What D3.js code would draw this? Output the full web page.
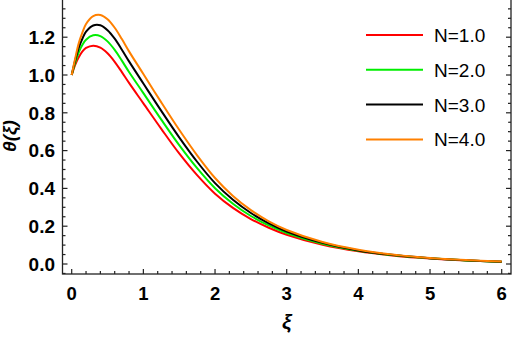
<!DOCTYPE html>
<html>
<head>
<meta charset="utf-8">
<script src="https://cdn.jsdelivr.net/npm/d3@7"></script>
<style>
  body { margin: 0; background: #fff; }
  svg { display: block; }
</style>
</head>
<body>
<svg id="chart" width="512" height="337"></svg>
<script>
const svg = d3.select("#chart");

// data
const xi = [0, 0.05, 0.1, 0.15, 0.2, 0.3, 0.4, 0.5, 0.6, 0.7, 0.8, 1.0, 1.25, 1.5, 1.75, 2.0, 2.25, 2.5, 2.75, 3.0, 3.5, 4.0, 4.5, 5.0, 5.5, 6.0];
const theta_N1 = [1.0, 1.055, 1.095, 1.125, 1.143, 1.155, 1.145, 1.115, 1.07, 1.015, 0.958, 0.85, 0.715, 0.585, 0.47, 0.372, 0.297, 0.238, 0.192, 0.155, 0.102, 0.067, 0.044, 0.029, 0.019, 0.012];
const theta_N2 = [1.0, 1.067, 1.121, 1.16, 1.187, 1.21, 1.206, 1.178, 1.133, 1.076, 1.016, 0.904, 0.764, 0.629, 0.507, 0.401, 0.319, 0.254, 0.204, 0.164, 0.107, 0.07, 0.046, 0.03, 0.019, 0.012];
const theta_N3 = [1.0, 1.079, 1.146, 1.193, 1.229, 1.262, 1.263, 1.237, 1.192, 1.134, 1.072, 0.955, 0.81, 0.67, 0.541, 0.428, 0.34, 0.27, 0.215, 0.172, 0.112, 0.072, 0.047, 0.031, 0.02, 0.012];
const theta_N4 = [1.0, 1.09, 1.17, 1.225, 1.27, 1.312, 1.318, 1.295, 1.25, 1.19, 1.125, 1.005, 0.855, 0.71, 0.575, 0.455, 0.36, 0.285, 0.226, 0.18, 0.116, 0.075, 0.049, 0.032, 0.021, 0.013];

const labels = ["N=1.0", "N=2.0", "N=3.0", "N=4.0"];
const colors = ["#ff0000", "#00ee00", "#000000", "#ff8000"];
const series = [theta_N1, theta_N2, theta_N3, theta_N4];

const xTicks = [0, 1, 2, 3, 4, 5, 6];
const yTicks = [0.0, 0.2, 0.4, 0.6, 0.8, 1.0, 1.2];

// frame in pixels
const fLeft = 62.5, fRight = 511, fTop = -2, fBottom = 274;

const x = d3.scaleLinear().domain([0, 6]).range([71.7, 501.7]);
const y = d3.scaleLinear().domain([0, 1.2]).range([264, 37.2]);

// frame
const frame = svg.append("g");
frame.append("rect")
    .attr("x", fLeft).attr("y", fTop)
    .attr("width", fRight - fLeft).attr("height", fBottom - fTop)
    .attr("fill", "none")
    .attr("stroke", "#222")
    .attr("stroke-width", 1.3);

// ticks (inward)
const xMinor = d3.range(0, 6.01, 0.2).filter(v => Math.abs(v - Math.round(v)) > 1e-6);
const yMinor = d3.range(-0.05, 1.4, 0.05).filter(v => Math.abs(v * 5 - Math.round(v * 5)) > 1e-6);

function tickLines(vals, len, axis) {
    vals.forEach(v => {
        if (axis === "x") {
            frame.append("line").attr("x1", x(v)).attr("x2", x(v))
                .attr("y1", fBottom).attr("y2", fBottom - len)
                .attr("stroke", "#222").attr("stroke-width", 1.2);
        } else {
            frame.append("line").attr("y1", y(v)).attr("y2", y(v))
                .attr("x1", fLeft).attr("x2", fLeft + len)
                .attr("stroke", "#222").attr("stroke-width", 1.2);
            frame.append("line").attr("y1", y(v)).attr("y2", y(v))
                .attr("x1", fRight).attr("x2", fRight - len)
                .attr("stroke", "#222").attr("stroke-width", 1.2);
        }
    });
}
tickLines(xTicks, 5, "x");
tickLines(xMinor, 3, "x");
tickLines(yTicks, 5, "y");
tickLines(yMinor, 3, "y");

// tick labels
svg.append("g").selectAll("text")
    .data(xTicks)
    .enter()
    .append("text")
    .attr("x", d => x(d))
    .attr("y", 300)
    .attr("text-anchor", "middle")
    .style("font-family", "Liberation Sans, Arial, sans-serif")
    .style("font-weight", "bold")
    .style("font-size", "18.5px")
    .text(d => d);

svg.append("g").selectAll("text")
    .data(yTicks)
    .enter()
    .append("text")
    .attr("x", 55)
    .attr("y", d => y(d) + 6.8)
    .attr("text-anchor", "end")
    .style("font-family", "Liberation Sans, Arial, sans-serif")
    .style("font-weight", "bold")
    .style("font-size", "19px")
    .text(d => d3.format(".1f")(d));

// axis titles
svg.append("text")
    .attr("x", x(3))
    .attr("y", 329)
    .attr("text-anchor", "middle")
    .style("font-family", "Liberation Sans, Arial, sans-serif")
    .style("font-weight", "bold")
    .style("font-style", "italic")
    .style("font-size", "21px")
    .text("ξ");

svg.append("text")
    .attr("transform", "translate(16,136) rotate(-90)")
    .attr("text-anchor", "middle")
    .style("font-family", "Liberation Sans, Arial, sans-serif")
    .style("font-weight", "bold")
    .style("font-style", "italic")
    .style("font-size", "19px")
    .text("θ(ξ)");

// curves
const line = d3.line()
    .x(d => x(d[0]))
    .y(d => y(d[1]))
    .curve(d3.curveCatmullRom.alpha(0.5));

svg.append("g").selectAll("path")
    .data(series)
    .enter()
    .append("path")
    .attr("d", s => line(xi.map((v, i) => [v, s[i]])))
    .attr("fill", "none")
    .attr("stroke", (d, i) => colors[i])
    .attr("stroke-width", 2);

// legend
const legend = svg.append("g");
legend.selectAll("line")
    .data(labels)
    .enter()
    .append("line")
    .attr("x1", 366).attr("x2", 423)
    .attr("y1", (d, i) => 35 + i * 34.8)
    .attr("y2", (d, i) => 35 + i * 34.8)
    .attr("stroke", (d, i) => colors[i])
    .attr("stroke-width", 2);

legend.selectAll("text")
    .data(labels)
    .enter()
    .append("text")
    .attr("x", 434)
    .attr("y", (d, i) => 42 + i * 34.8)
    .style("font-family", "Liberation Sans, Arial, sans-serif")
    .style("font-size", "19px")
    .text(d => d);
</script>
</body>
</html>
